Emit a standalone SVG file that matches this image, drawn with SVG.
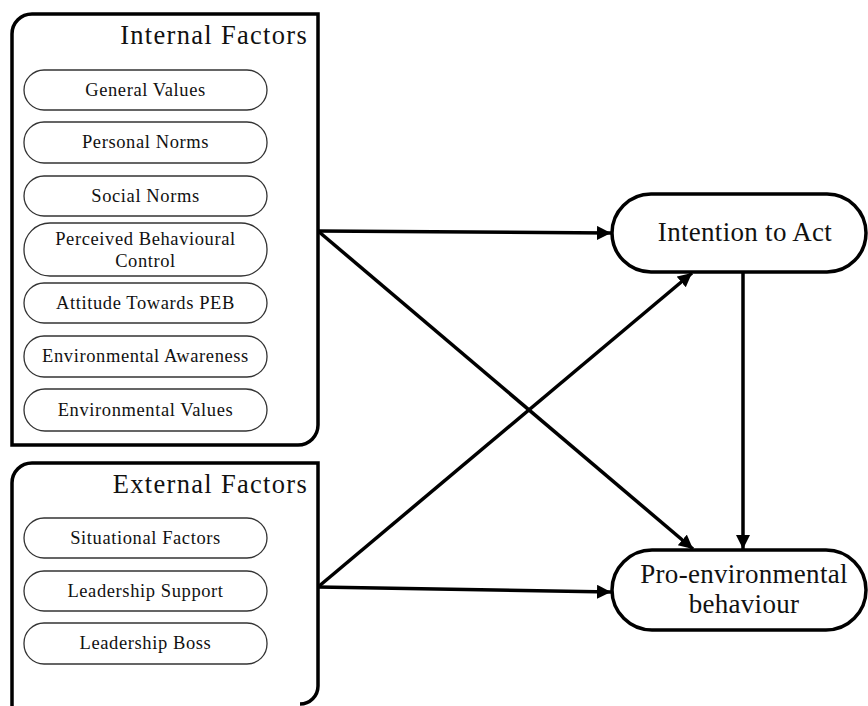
<svg xmlns="http://www.w3.org/2000/svg" width="868" height="706" viewBox="0 0 868 706">
<style>
.frame{fill:#fff;stroke:#000;stroke-width:3.5}
.pill{fill:#fff;stroke:#333;stroke-width:1.3}
.big{fill:#fff;stroke:#000;stroke-width:3.5}
text{font-family:"Liberation Serif","Times New Roman",serif;fill:#111}
.title{font-size:26.5px;text-anchor:end;letter-spacing:1.3px}
.item{font-size:18.5px;text-anchor:middle;letter-spacing:0.6px}
.main{font-size:27px;text-anchor:middle;letter-spacing:0.3px}
.conn{stroke:#000;stroke-width:3.5;fill:none;marker-end:url(#ah)}
</style>
<defs>
<marker id="ah" markerUnits="userSpaceOnUse" markerWidth="16" markerHeight="16" refX="14" refY="7" orient="auto">
<path d="M0,0 L14,7 L0,14 Z" fill="#000"/>
</marker>
</defs>
<rect width="868" height="706" fill="#fff"/>

<g id="internal">
<path class="frame" d="M12,445 L12,34 A20,20 0 0 1 32,14 L318,14 L318,425 A20,20 0 0 1 298,445 Z"/>
<text class="title" x="308" y="44">Internal Factors</text>
</g>
<g id="general-values"><rect class="pill" x="24" y="70" width="243" height="40" rx="20"/><text class="item" x="145.5" y="96">General Values</text></g>
<g id="personal-norms"><rect class="pill" x="24" y="122" width="243" height="41" rx="20"/><text class="item" x="145.5" y="148">Personal Norms</text></g>
<g id="social-norms"><rect class="pill" x="24" y="176" width="243" height="40" rx="20"/><text class="item" x="145.5" y="202">Social Norms</text></g>
<g id="pbc"><rect class="pill" x="24" y="223" width="243" height="53" rx="26"/><text class="item" x="145.5" y="245">Perceived Behavioural</text><text class="item" x="145.5" y="267">Control</text></g>
<g id="attitude"><rect class="pill" x="24" y="283" width="243" height="40" rx="20"/><text class="item" x="145.5" y="309">Attitude Towards PEB</text></g>
<g id="env-awareness"><rect class="pill" x="24" y="336" width="243" height="41" rx="20"/><text class="item" x="145.5" y="362">Environmental Awareness</text></g>
<g id="env-values"><rect class="pill" x="24" y="389" width="243" height="42" rx="21"/><text class="item" x="145.5" y="416">Environmental Values</text></g>

<g id="external">
<path class="frame" d="M12,708 L12,483 A20,20 0 0 1 32,463 L318,463 L318,686 A18,18 0 0 1 300,704"/>
<text class="title" x="308" y="493">External Factors</text>
</g>
<g id="situational"><rect class="pill" x="24" y="518" width="243" height="40" rx="20"/><text class="item" x="145.5" y="544">Situational Factors</text></g>
<g id="leadership-support"><rect class="pill" x="24" y="571" width="243" height="40" rx="20"/><text class="item" x="145.5" y="597">Leadership Support</text></g>
<g id="leadership-boss"><rect class="pill" x="24" y="623" width="243" height="41" rx="20"/><text class="item" x="145.5" y="649">Leadership Boss</text></g>

<g id="intention"><rect class="big" x="612" y="194" width="254" height="78" rx="39"/><text class="main" x="745" y="241">Intention to Act</text></g>
<g id="peb"><rect class="big" x="612" y="550" width="254" height="80" rx="40"/><text class="main" x="744" y="583">Pro-environmental</text><text class="main" x="744" y="613">behaviour</text></g>

<g id="connectors">
<line class="conn" x1="318" y1="231" x2="611" y2="233"/>
<line class="conn" x1="318" y1="231" x2="693" y2="549"/>
<line class="conn" x1="318" y1="587" x2="692" y2="273"/>
<line class="conn" x1="318" y1="587" x2="611" y2="592"/>
<line class="conn" x1="743" y1="272" x2="743" y2="549"/>
</g>
</svg>
